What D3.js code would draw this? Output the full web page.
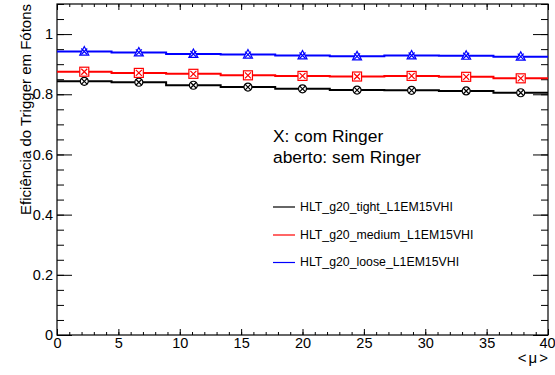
<!DOCTYPE html>
<html>
<head>
<meta charset="utf-8">
<script src="https://cdn.jsdelivr.net/npm/d3@7"></script>
<style>
  body { margin: 0; background: #fff; }
  svg { font-family: "Liberation Sans", Arial, sans-serif; }
</style>
</head>
<body>
<svg id="chart"></svg>
<script>
// bins of <mu>
let binEdges = [0, 4.444, 8.889, 13.333, 17.778, 22.222, 26.667, 31.111, 35.556, 40]
let binCenters = [2.222, 6.667, 11.111, 15.556, 20, 24.444, 28.889, 33.333, 37.778]

let tightEff = [0.843, 0.840, 0.830, 0.824, 0.818, 0.814, 0.813, 0.811, 0.805]
let mediumEff = [0.875, 0.871, 0.868, 0.863, 0.861, 0.859, 0.861, 0.858, 0.853]
let looseEff = [0.942, 0.939, 0.934, 0.932, 0.929, 0.926, 0.929, 0.928, 0.925]

let seriesNames = ["HLT_g20_tight_L1EM15VHI", "HLT_g20_medium_L1EM15VHI", "HLT_g20_loose_L1EM15VHI"]

let xMajor = [0, 5, 10, 15, 20, 25, 30, 35, 40]
let yMajor = [0, 0.2, 0.4, 0.6, 0.8, 1]

let width = 555
let height = 375
let padLeft = 57, padRight = 548, padTop = 4, padBottom = 335

let svg = d3.select("#chart").attr("width", width).attr("height", height)

let xScale = d3.scaleLinear().domain([0, 40]).range([padLeft, padRight])
let yScale = d3.scaleLinear().domain([0, 1.1]).range([padBottom, padTop])

let xMinor = d3.range(0, 41, 1)
let yMinor = d3.range(0, 1.1001, 0.05).map(v => +v.toFixed(2))

let styleAxis = (g) => {
  g.select(".domain").remove()
  g.selectAll("line").attr("stroke", "#000")
  g.selectAll("text").attr("fill", "#000").style("font-size", "14.5px")
}

// minor ticks
svg.append("g").attr("transform", "translate(0," + padBottom + ")")
   .call(d3.axisBottom(xScale).tickValues(xMinor).tickSize(-3).tickFormat(""))
   .call(styleAxis)
svg.append("g").attr("transform", "translate(0," + padTop + ")")
   .call(d3.axisTop(xScale).tickValues(xMinor).tickSize(-3).tickFormat(""))
   .call(styleAxis)
svg.append("g").attr("transform", "translate(" + padLeft + ",0)")
   .call(d3.axisLeft(yScale).tickValues(yMinor).tickSize(-7).tickFormat(""))
   .call(styleAxis)
svg.append("g").attr("transform", "translate(" + padRight + ",0)")
   .call(d3.axisRight(yScale).tickValues(yMinor).tickSize(-7).tickFormat(""))
   .call(styleAxis)

// major ticks
let xAxisG = svg.append("g").attr("transform", "translate(0," + padBottom + ")")
   .call(d3.axisBottom(xScale).tickValues(xMajor).tickSize(-6).tickPadding(3).tickFormat(d3.format("d")))
   .call(styleAxis)
// keep last label inside the window
xAxisG.selectAll(".tick text").filter(d => d === 40).attr("dx", "-1")

svg.append("g").attr("transform", "translate(0," + padTop + ")")
   .call(d3.axisTop(xScale).tickValues(xMajor).tickSize(-6).tickFormat(""))
   .call(styleAxis)
svg.append("g").attr("transform", "translate(" + padLeft + ",0)")
   .call(d3.axisLeft(yScale).tickValues(yMajor).tickSize(-15).tickPadding(4).tickFormat(d => d === 0 ? "0" : (d === 1 ? "1" : d3.format(".1f")(d))))
   .call(styleAxis)
svg.append("g").attr("transform", "translate(" + padRight + ",0)")
   .call(d3.axisRight(yScale).tickValues(yMajor).tickSize(-15).tickFormat(""))
   .call(styleAxis)

// frame
svg.append("rect")
   .attr("x", padLeft).attr("y", padTop)
   .attr("width", padRight - padLeft).attr("height", padBottom - padTop)
   .attr("fill", "none").attr("stroke", "#000").attr("stroke-width", 1.2)

// axis titles
svg.append("text")
   .text("Eficiência do Trigger em Fótons")
   .attr("transform", "translate(31," + padTop + ") rotate(-90)")
   .attr("text-anchor", "end")
   .style("font-size", "15px")

svg.append("text")
   .text("<μ>")
   .attr("x", padRight + 2).attr("y", 363)
   .attr("text-anchor", "end")
   .style("font-size", "15px")
   .style("letter-spacing", "2px")

// histograms
let series = [
  { name: seriesNames[0], values: tightEff, color: "#000000", marker: "circle" },
  { name: seriesNames[1], values: mediumEff, color: "#ff0000", marker: "square" },
  { name: seriesNames[2], values: looseEff, color: "#0000ff", marker: "triangle" }
]

let stepLine = d3.line()
  .x(d => xScale(d[0]))
  .y(d => yScale(d[1]))
  .curve(d3.curveStepAfter)

series.forEach(s => {
  let pts = binEdges.map((e, i) => [e, s.values[Math.min(i, s.values.length - 1)]])
  svg.append("path")
     .datum(pts)
     .attr("d", stepLine)
     .attr("fill", "none")
     .attr("stroke", s.color)
     .attr("stroke-width", 2)

  let g = svg.append("g")
  let m = g.selectAll("g.mk")
     .data(binCenters.map((c, i) => [c, s.values[i]]))
     .enter()
     .append("g")
     .attr("class", "mk")
     .attr("transform", d => "translate(" + xScale(d[0]) + "," + yScale(d[1]) + ")")

  if (s.marker === "circle") {
    m.append("circle").attr("r", 4).attr("fill", "#fff").attr("stroke", s.color).attr("stroke-width", 1.2)
  } else if (s.marker === "square") {
    m.append("rect").attr("x", -4.5).attr("y", -4.5).attr("width", 9).attr("height", 9)
     .attr("fill", "#fff").attr("stroke", s.color).attr("stroke-width", 1.2)
  } else {
    m.append("path").attr("d", "M0,-5L4.5,3.5L-4.5,3.5Z")
     .attr("fill", "#fff").attr("stroke", s.color).attr("stroke-width", 1.2)
  }
  m.append("path")
   .attr("d", "M-3,-3L3,3M-3,3L3,-3")
   .attr("stroke", s.color).attr("stroke-width", 1.2)
})

// text notes
svg.append("text").text("X: com Ringer")
   .attr("x", 273).attr("y", 141.5).style("font-size", "17.4px")
svg.append("text").text("aberto: sem Ringer")
   .attr("x", 273).attr("y", 162.5).style("font-size", "17.4px")

// legend
let legendY = [207, 235, 262.5]
series.forEach((s, i) => {
  svg.append("line")
     .attr("x1", 273).attr("x2", 295)
     .attr("y1", legendY[i]).attr("y2", legendY[i])
     .attr("stroke", s.color).attr("stroke-width", 1.2)
  svg.append("text").text(s.name)
     .attr("x", 300).attr("y", legendY[i] + 3.8)
     .style("font-size", "12.3px")
})
</script>
</body>
</html>
